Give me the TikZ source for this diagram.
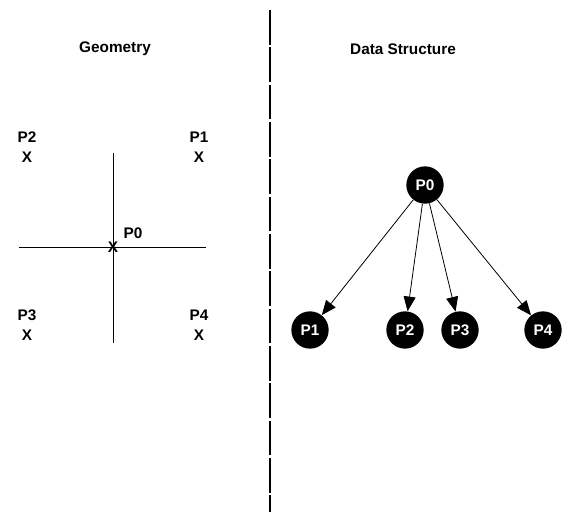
\documentclass[tikz,border=0pt]{standalone}
\usepackage{fontspec}
\setmainfont{Liberation Sans}
\usepackage{tikz}
\usetikzlibrary{arrows.meta}

\tikzset{
    lbl/.style={font=\bfseries\fontsize{11.5}{13}\selectfont, inner sep=0pt},
    pnt/.style={circle, fill=black, minimum size=28pt, inner sep=0pt,
        text=white, font=\bfseries\fontsize{11.5}{13}\selectfont},
    link/.style={semithick, -{Triangle[length=11pt, width=9pt]}}
}

\begin{document}
\begin{tikzpicture}[x=0.75pt, y=-0.75pt]
        \useasboundingbox (0, 0) rectangle (566, 516);
        % separator
        \coordinate (T) at (270, 10);
        \coordinate (B) at (270, 512);
        \draw[line width=1.4pt, dash pattern=on 26pt off 2pt] (T) -- (B);
        \node[lbl] (geo) at (115, 49) {Geometry};
        \node[lbl] (ds) at (403, 49) {Data Structure};
        % geometry
        \coordinate (N) at (113, 153);
        \coordinate (S) at (113, 343);
        \coordinate (W) at (19, 247);
        \coordinate (E) at (206, 247);
        \draw[semithick] (N) -- (S);
        \draw[semithick] (W) -- (E);
        \node[lbl] (x0) at (113, 247) {X};
        \node[lbl] (g0) at (133, 233) {P0};
        \node[lbl] (g2) at (27, 137) {P2};
        \node[lbl] (x2) at (27, 157) {X};
        \node[lbl] (g1) at (199, 137) {P1};
        \node[lbl] (x1) at (199, 157) {X};
        \node[lbl] (g3) at (27, 315) {P3};
        \node[lbl] (x3) at (27, 335) {X};
        \node[lbl] (g4) at (199, 315) {P4};
        \node[lbl] (x4) at (199, 335) {X};
        % data structure
        \node[pnt] (d0) at (425, 185) {P0};
        \node[pnt] (d1) at (310, 330) {P1};
        \node[pnt] (d2) at (405, 330) {P2};
        \node[pnt] (d3) at (460, 330) {P3};
        \node[pnt] (d4) at (543, 330) {P4};
        \draw[link] (d0) -- (d1);
        \draw[link] (d0) -- (d2);
        \draw[link] (d0) -- (d3);
        \draw[link] (d0) -- (d4);
    \end{tikzpicture}
\end{document}
